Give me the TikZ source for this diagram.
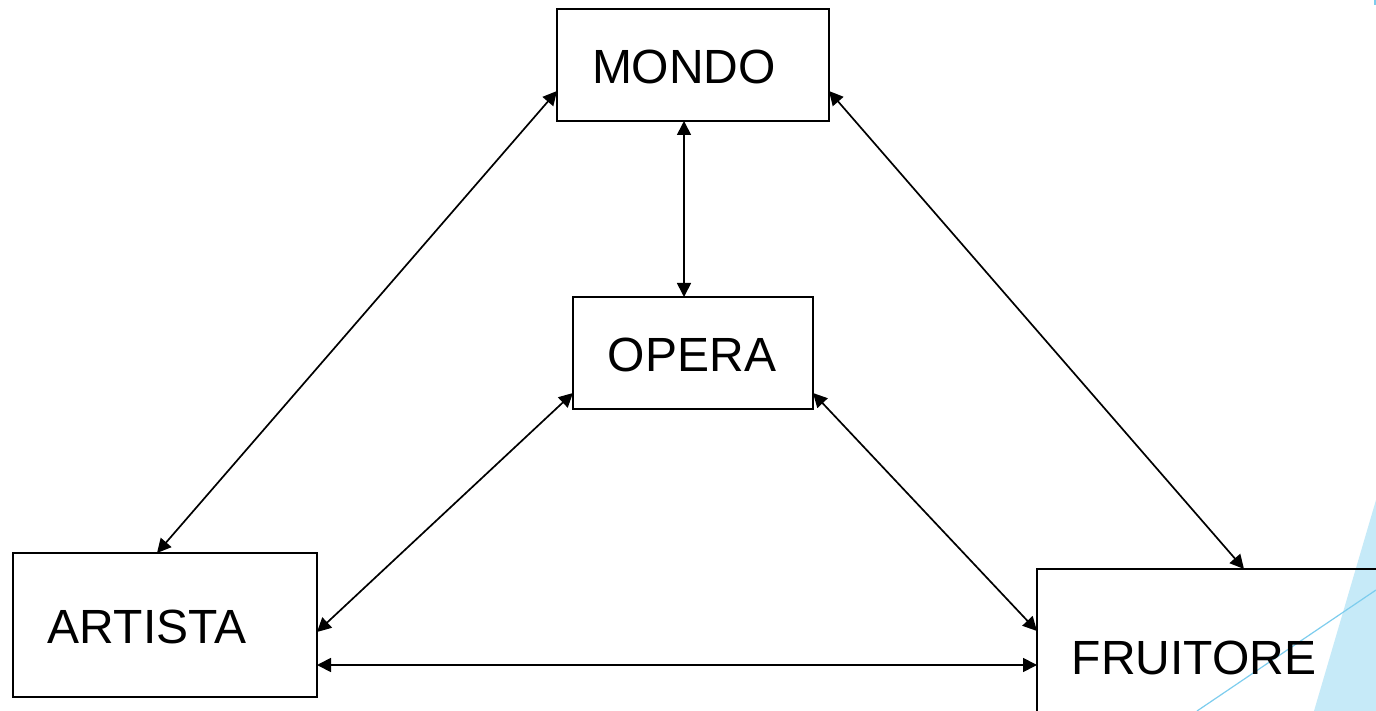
\documentclass[tikz,border=0pt]{standalone}
\usepackage{fontspec}
\setmainfont{Liberation Sans}
\usetikzlibrary{arrows.meta}
\definecolor{deco}{HTML}{C6EAF8}
\definecolor{decoline}{HTML}{7DCDEE}
\tikzset{
  box/.style={draw=black, line width=1.9pt, inner sep=0pt, outer sep=0pt, rectangle},
  lbl/.style={inner sep=0pt, font=\fontsize{48}{57}\selectfont},
  link/.style={line width=1.7pt, {Triangle[length=14pt,width=14pt]}-{Triangle[length=14pt,width=14pt]}}
}
\begin{document}
\begin{tikzpicture}[x=1pt,y=-1pt]
\useasboundingbox (0,0) rectangle (1376,711);
\clip (0,0) rectangle (1376,711);
\fill[white] (0,0) rectangle (1376,711);
% decoration
\fill[deco] (1376,500) -- (1314,711) -- (1376,711) -- cycle;
\draw[decoline, line width=1.2pt] (1197,711) -- (1376,590);
\draw[decoline, line width=1.2pt] (1375,0) -- (1375,5);
% boxes
\node[box, minimum width=272pt, minimum height=112pt] (mondo) at (693,65) {};
\node[box, minimum width=240pt, minimum height=112pt] (opera) at (693,353) {};
\node[box, minimum width=304pt, minimum height=144pt] (artista) at (165,625) {};
\node[box, minimum width=363pt, minimum height=171pt] (fruitore) at (1218.5,654.5) {};
% labels
\node[lbl] (tmondo) at (684,67) {MONDO};
\node[lbl] (topera) at (692,355) {OPERA};
\node[lbl] (tartista) at (147,627) {ARTISTA};
\node[lbl] (tfruitore) at (1194,658) {FRUITORE};
% connectors
\draw[link] ([yshift=30pt]mondo.south west) -- ([xshift=144pt]artista.north west);
\draw[link] ([xshift=-9pt]mondo.south) -- ([xshift=-9pt]opera.north);
\draw[link] ([yshift=30pt]mondo.south east) -- ([xshift=207pt]fruitore.north west);
\draw[link] ([yshift=16pt]opera.south west) -- ([yshift=65pt]artista.south east);
\draw[link] ([yshift=16pt]opera.south east) -- ([yshift=-62pt]fruitore.north west);
\draw[link] ([yshift=32pt]artista.south east) -- ([yshift=-96pt]fruitore.north west);
\end{tikzpicture}
\end{document}
